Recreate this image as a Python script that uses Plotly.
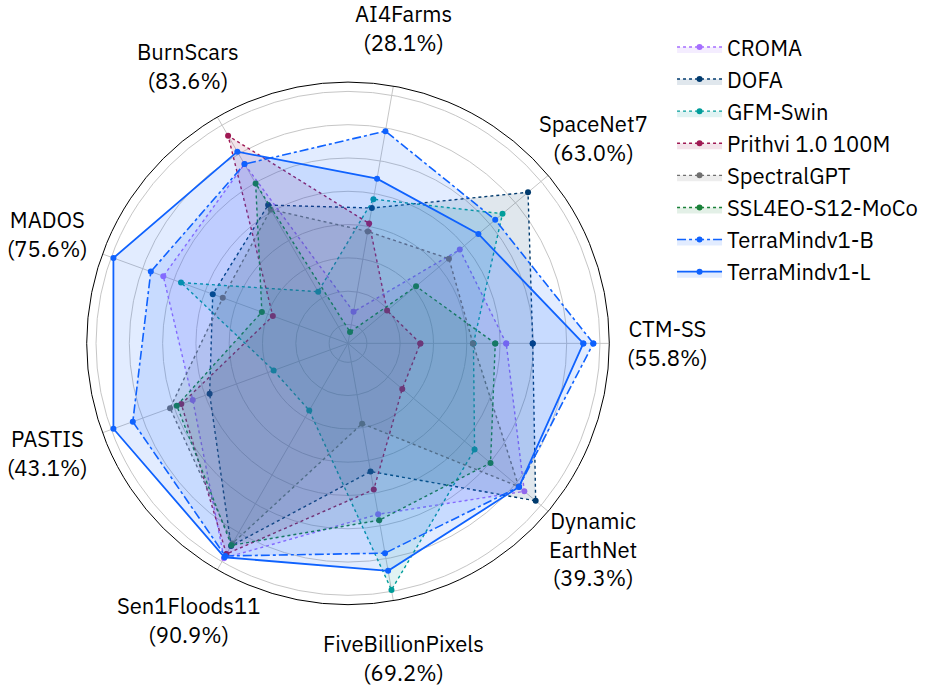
import math
import plotly.graph_objects as go

# Categories (counter-clockwise from east) and best score shown in label
datasets = ["CTM-SS", "SpaceNet7", "AI4Farms", "BurnScars", "MADOS",
            "PASTIS", "Sen1Floods11", "FiveBillionPixels", "Dynamic EarthNet"]
label_names = ["CTM-SS", "SpaceNet7", "AI4Farms", "BurnScars", "MADOS",
               "PASTIS", "Sen1Floods11", "FiveBillionPixels", "Dynamic<br>EarthNet"]
best_scores = [55.8, 63.0, 28.1, 83.6, 75.6, 43.1, 90.9, 69.2, 39.3]

# Normalised scores (radial axis units)
croma    = [0.837, 0.763, 0.079, 1.130, 1.067, 0.879, 1.376, 0.929, 1.269]
dofa     = [0.996, 1.298, 0.712, 0.846, 0.751, 0.771, 1.291, 0.668, 1.358]
gfm_swin = [0.640, 1.098, 0.766, 0.245, 0.954, 0.362, 0.352, 1.390, 0.879]
prithvi  = [0.321, 0.193, 0.618, 1.327, 0.367, 0.952, 1.347, 0.778, 0.312]
spectral = [0.637, 0.678, 0.569, 0.815, 0.687, 1.024, 1.274, 0.376, 1.225]
ssl4eo   = [0.771, 0.420, -0.044, 0.996, 0.437, 0.981, 1.287, 0.965, 1.004]
tm_b     = [1.360, 1.041, 1.181, 1.130, 1.147, 1.262, 1.361, 1.166, 1.227]
tm_l     = [1.300, 0.909, 0.891, 1.216, 1.386, 1.386, 1.370, 1.274, 1.228]

models = ["CROMA", "DOFA", "GFM-Swin", "Prithvi 1.0 100M", "SpectralGPT",
          "SSL4EO-S12-MoCo", "TerraMindv1-B", "TerraMindv1-L"]
series = [croma, dofa, gfm_swin, prithvi, spectral, ssl4eo, tm_b, tm_l]
colors = ["#a56eff", "#003a6d", "#009d9a", "#9f1853", "#6f6f6f",
          "#198038", "#0f62fe", "#0f62fe"]
dashes = ["dot", "dot", "dot", "dot", "dot", "dot", "dashdot", "solid"]
widths = [1.4, 1.4, 1.4, 1.4, 1.4, 1.4, 1.6, 1.8]

radial_ticks = [0, 0.2, 0.4, 0.6, 0.8, 1.0, 1.2, 1.4]
radial_range = [-0.1135, 1.456]

FONT = "IBM Plex Sans, Inter, Roboto, sans-serif"


def rgba(hex_color, a):
    h = hex_color.lstrip("#")
    r, g, b = int(h[0:2], 16), int(h[2:4], 16), int(h[4:6], 16)
    return f"rgba({r},{g},{b},{a})"


fig = go.Figure()
for name, vals, col, dash, w in zip(models, series, colors, dashes, widths):
    fig.add_trace(go.Scatterpolar(
        r=vals + vals[:1],
        theta=datasets + datasets[:1],
        name=name,
        legendgroup=name,
        mode="lines+markers",
        line=dict(color=col, dash=dash, width=w),
        marker=dict(color=col, size=6),
        fill="toself",
        fillcolor=rgba(col, 0.12),
    ))

W, H = 946, 688
dom_x = [0.09165, 0.64408]
dom_y = [0.1211, 0.8807]

fig.update_layout(
    width=W, height=H,
    margin=dict(l=0, r=0, t=0, b=0),
    paper_bgcolor="white",
    font=dict(family=FONT, size=22, color="black"),
    polar=dict(
        domain=dict(x=dom_x, y=dom_y),
        bgcolor="white",
        radialaxis=dict(range=radial_range, tickvals=radial_ticks,
                        showticklabels=False, ticks="", showline=False,
                        gridcolor="#c6c6c6", gridwidth=1),
        angularaxis=dict(type="category", categoryarray=datasets,
                         rotation=0, direction="counterclockwise",
                         showticklabels=False, ticks="",
                         showline=True, linecolor="black", linewidth=1,
                         gridcolor="#c6c6c6", gridwidth=1),
    ),
    legend=dict(x=0.7104, y=0.962, xanchor="left", yanchor="top",
                font=dict(family=FONT, size=22), itemwidth=45,
                tracegroupgap=0.5, bgcolor="rgba(0,0,0,0)"),
    showlegend=True,
)

# Category labels placed around the polar circle
cx = (dom_x[0] + dom_x[1]) / 2 * W
cy = (dom_y[0] + dom_y[1]) / 2 * H
R = (dom_x[1] - dom_x[0]) * W / 2
label_r = R * 1.224
n = len(datasets)
for i, (lab, sc) in enumerate(zip(label_names, best_scores)):
    ang = math.radians(360 * i / n)
    fig.add_annotation(
        x=(cx + label_r * math.cos(ang)) / W,
        y=(cy + label_r * math.sin(ang)) / H,
        xref="paper", yref="paper", xanchor="center", yanchor="middle",
        text=f"{lab}<br>({sc:.1f}%)", showarrow=False, align="center",
        font=dict(family=FONT, size=22, color="black"),
    )

fig.write_html("out.html")
